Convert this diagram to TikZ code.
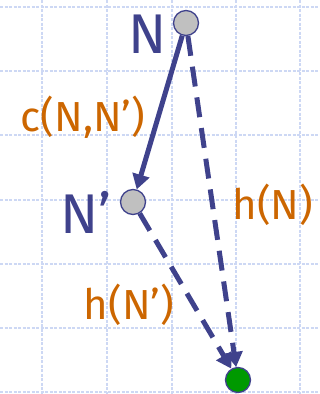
\documentclass[tikz,border=0pt]{standalone}
\usepackage{fontspec}
\setmainfont{Fira Sans}
\usetikzlibrary{arrows.meta}
\definecolor{navy}{HTML}{3F428C}
\definecolor{org}{HTML}{CC6600}
\definecolor{gridc}{HTML}{CDD8F4}
\definecolor{gr}{HTML}{C0C0C0}
\definecolor{goalc}{HTML}{009900}
\begin{document}
\begin{tikzpicture}[x=1pt,y=-1pt,
  gridline/.style={gridc,line width=1.6pt,dash pattern=on 3pt off 1.5pt},
  state/.style={circle,draw=navy,line width=1.3pt,minimum size=25pt,inner sep=0pt},
  edge/.style={navy,line width=5pt,-{Triangle[length=15pt,width=17pt]}},
  dedge/.style={edge,dash pattern=on 20pt off 11pt},
  nlab/.style={navy,inner sep=0pt,font=\fontsize{56}{60}\selectfont},
  olab/.style={org,inner sep=0pt,font=\fontsize{42}{46}\selectfont}]
\useasboundingbox (0,0) rectangle (320,394);
\foreach \x in {42,107,172,236,300} \draw[gridline] (\x,0) -- (\x,394);
\foreach \y in {7,71,135,200,264,328,392} \draw[gridline] (0,\y) -- (320,\y);
\node[state,fill=gr] (n) at (186,23) {};
\node[state,fill=gr] (np) at (133,202) {};
\node[state,fill=goalc] (g) at (238,380) {};
\draw[edge] (n) -- (np);
\draw[dedge] (n) -- (g);
\draw[dedge] (np) -- (g);
\node[nlab] (ln) at (148,34) {N};
\node[nlab] (lnp) at (86,212) {N’};
\node[olab] (c) at (83,117) {c(N,N’)};
\node[olab] (hn) at (273,205) {h(N)};
\node[olab] (hnp) at (129,305) {h(N’)};
\end{tikzpicture}
\end{document}
